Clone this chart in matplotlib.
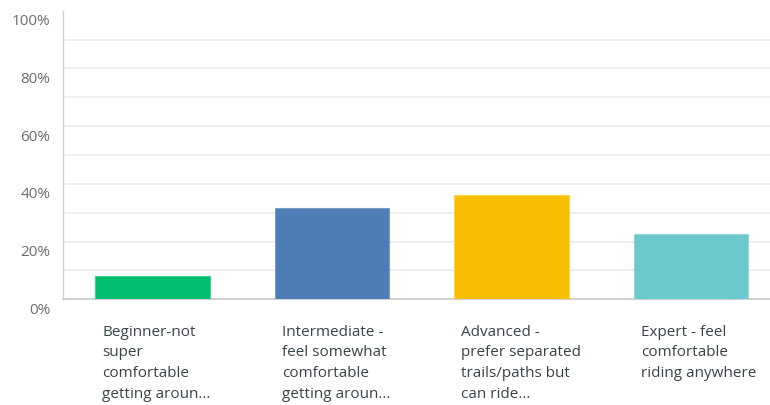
import matplotlib.pyplot as plt
import matplotlib.transforms as mtransforms
import numpy as np

# Survey answers: share of respondents per riding confidence level
categories = [
    "Beginner-not\nsuper\ncomfortable\ngetting aroun...",
    "Intermediate -\nfeel somewhat\ncomfortable\ngetting aroun...",
    "Advanced -\nprefer separated\ntrails/paths but\ncan ride...",
    "Expert - feel\ncomfortable\nriding anywhere",
]
shares = [8.1, 31.6, 36.2, 22.6]
bar_colors = ["#00bf6f", "#507cb6", "#f9be00", "#6bc8cd"]
edge_colors = ["#3fd08f", "#7a9cc8", "#fbd04a", "#95d8db"]
y_ticks = [0, 20, 40, 60, 80, 100]

plt.rcParams["font.family"] = ["Open Sans", "DejaVu Sans"]

fig = plt.figure(figsize=(7.7, 4.05), dpi=100)
ax = fig.add_axes([62.7 / 770, 105.7 / 405, 718 / 770, 288.6 / 405])

x = np.arange(len(categories))
ax.bar(x, shares, width=0.64, color=bar_colors, edgecolor=edge_colors,
       linewidth=0.8, zorder=3)

ax.set_xlim(-0.5, len(categories) - 0.5)
ax.set_ylim(0, 100)

# light horizontal grid every 10 %
for g in range(10, 100, 10):
    ax.axhline(g, color="#ececec", linewidth=1.2, zorder=1)

ax.set_yticks(y_ticks)
ax.set_yticklabels([f"{v}%" for v in y_ticks], fontsize=11, color="#666d72")
ax.tick_params(axis="y", length=0, pad=9)
# percentage labels sit a bit below their gridline
offset = mtransforms.ScaledTranslation(0, -9 / 100, fig.dpi_scale_trans)
for lbl in ax.get_yticklabels():
    lbl.set_transform(lbl.get_transform() + offset)

ax.set_xticks([])
for i, label in enumerate(categories):
    ax.text(i - 0.28, -0.088, label, transform=ax.get_xaxis_transform(),
            ha="left", va="top", fontsize=11, color="#3a434a",
            linespacing=1.52)

for side in ["top", "right"]:
    ax.spines[side].set_visible(False)
ax.spines["left"].set_color("#d0d0d0")
ax.spines["bottom"].set_color("#c8c8c8")
ax.spines["left"].set_linewidth(1.0)
ax.spines["bottom"].set_linewidth(1.2)

fig.savefig("out.png", dpi=100)
